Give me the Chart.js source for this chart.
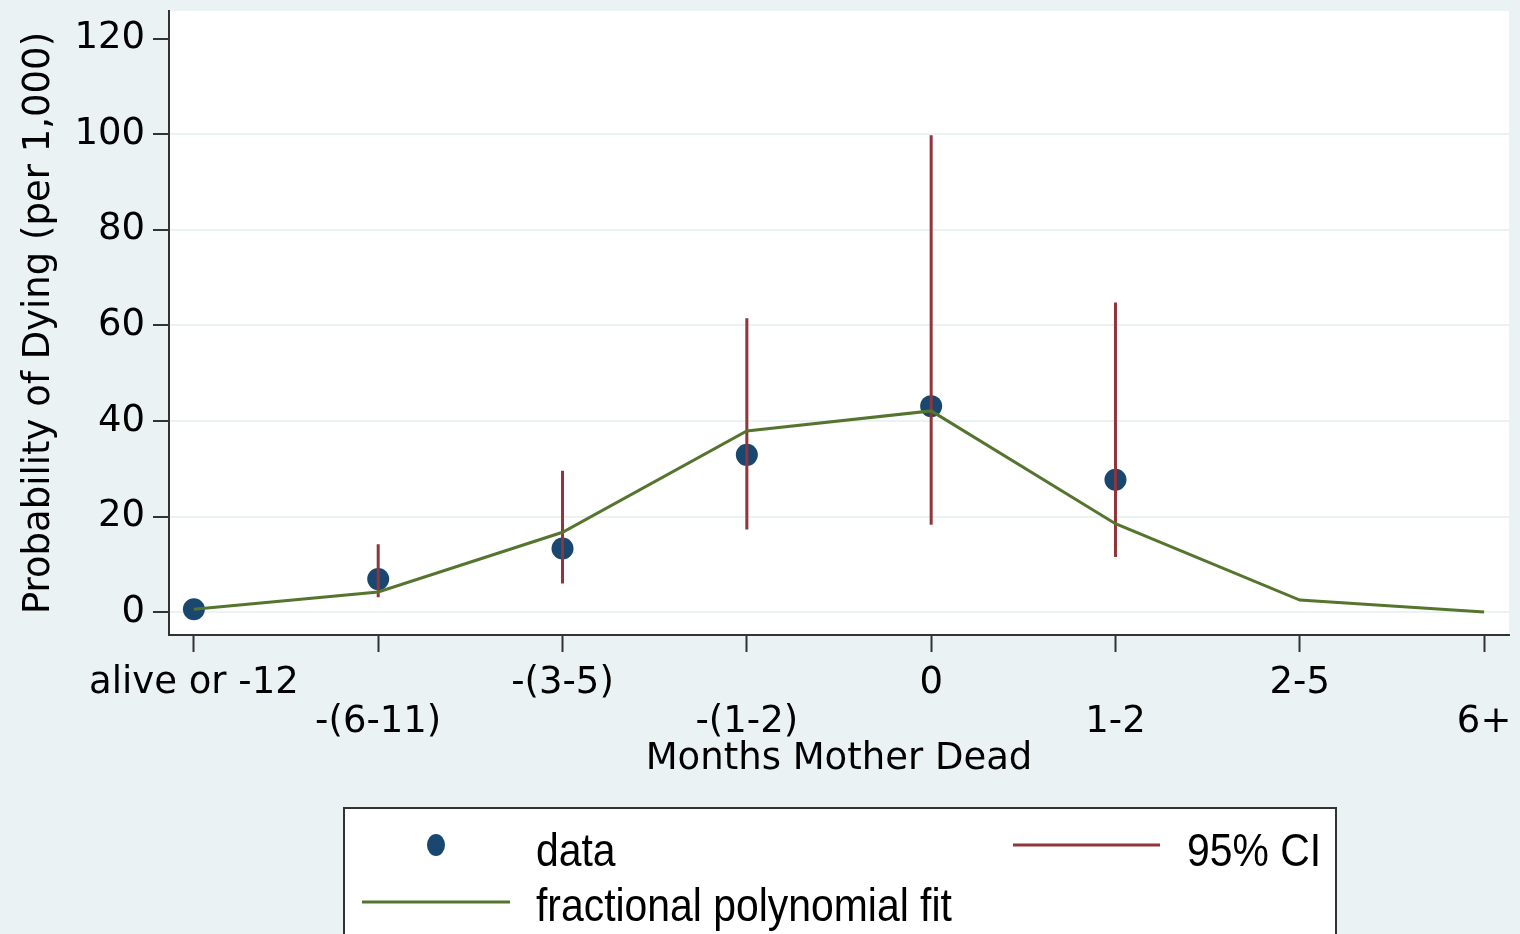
<!DOCTYPE html>
<html><head><meta charset="utf-8">
<script src="https://cdn.jsdelivr.net/npm/chart.js@4"></script>
<style>html,body{margin:0;padding:0;background:#EAF2F3;} #wrap{width:1520px;height:934px;}</style>
</head><body><div id="wrap"><canvas id="c" width="1520" height="934"></canvas></div>
<script>
const categories = ['alive or -12','-(6-11)','-(3-5)','-(1-2)','0','1-2','2-5','6+'];
const dataValues = [0.6, 6.9, 13.3, 32.9, 43.1, 27.7, null, null];
const fitValues  = [0.6, 4.2, 16.7, 37.9, 42.1, 18.5, 2.5, 0.0];
const ciLow      = [null, 3.1, 6.0, 17.3, 18.3, 11.5, null, null];
const ciHigh     = [null, 14.2, 29.6, 61.5, 99.8, 64.8, null, null];
const yTicks     = [0, 20, 40, 60, 80, 100, 120];
const legendLabels = ['data', '95% CI', 'fractional polynomial fit'];

const NAVY = '#1A476F', RED = '#90353B', GREEN = '#55752F', BG = '#EAF2F3', INK = '#000000', AXIS = '#333333';

const dotPoints = [];
dataValues.forEach((v, i) => { if (v !== null) dotPoints.push({x: i, y: v}); });
const fitPoints = fitValues.map((v, i) => ({x: i, y: v}));
const ciPoints = [];
ciLow.forEach((lo, i) => {
  if (lo !== null) { ciPoints.push({x: i, y: lo}, {x: i, y: ciHigh[i]}, {x: i, y: null}); }
});

const bgPlugin = {
  id: 'bg',
  beforeDraw(chart) {
    const {ctx, chartArea: a} = chart;
    ctx.save();
    ctx.fillStyle = BG; ctx.fillRect(0, 0, chart.width, chart.height);
    ctx.fillStyle = '#ffffff'; ctx.fillRect(a.left, a.top, a.right - a.left, a.bottom - a.top);
    ctx.restore();
  }
};

function condText(ctx, t, x, y) {
  ctx.save();
  ctx.translate(x, y); ctx.scale(0.87, 1);
  ctx.font = '47px "Liberation Sans", Arial, sans-serif';
  ctx.fillStyle = INK; ctx.textBaseline = 'alphabetic'; ctx.textAlign = 'left';
  ctx.fillText(t, 0, 0);
  ctx.restore();
}

const legendPlugin = {
  id: 'customLegend',
  afterDraw(chart) {
    const ctx = chart.ctx;
    ctx.save();
    ctx.fillStyle = '#ffffff'; ctx.fillRect(344, 808, 992, 140);
    ctx.strokeStyle = AXIS; ctx.lineWidth = 2; ctx.strokeRect(344, 808, 992, 140);
    ctx.fillStyle = NAVY; ctx.beginPath(); ctx.ellipse(436, 845, 9, 11, 0, 0, Math.PI * 2); ctx.fill();
    ctx.lineWidth = 3;
    ctx.strokeStyle = RED; ctx.beginPath(); ctx.moveTo(1013, 845); ctx.lineTo(1160, 845); ctx.stroke();
    ctx.strokeStyle = GREEN; ctx.beginPath(); ctx.moveTo(362, 902); ctx.lineTo(510, 902); ctx.stroke();
    ctx.restore();
    condText(ctx, legendLabels[0], 536, 866);
    condText(ctx, legendLabels[1], 1187, 866);
    condText(ctx, legendLabels[2], 536, 921);
  }
};

const axisFont = {family: '"DejaVu Sans", sans-serif', size: 37};

new Chart(document.getElementById('c'), {
  type: 'line',
  data: {
    datasets: [
      {label: 'fractional polynomial fit', data: fitPoints, borderColor: GREEN, borderWidth: 3, pointRadius: 0, tension: 0, fill: false, order: 0},
      {label: '95% CI', data: ciPoints, borderColor: RED, borderWidth: 3, pointRadius: 0, spanGaps: false, fill: false, order: 1},
      {label: 'data', data: dotPoints, showLine: false, pointRadius: 11, pointBackgroundColor: NAVY, pointBorderWidth: 0, borderColor: NAVY, order: 2}
    ]
  },
  options: {
    responsive: false,
    animation: false,
    devicePixelRatio: 1,
    layout: {padding: {top: 8, right: 4, left: 0, bottom: 0}},
    plugins: {legend: {display: false}, tooltip: {enabled: false}},
    scales: {
      x: {
        type: 'linear', min: -0.135, max: 7.135,
        afterBuildTicks: s => { s.ticks = categories.map((c, i) => ({value: i})); },
        ticks: {
          callback: (v) => { const i = Math.round(v); return i % 2 ? ['', categories[i]] : categories[i]; },
          font: {family: axisFont.family, size: 37, lineHeight: 1.054},
          color: INK, padding: 12, maxRotation: 0, minRotation: 0, autoSkip: false
        },
        grid: {drawOnChartArea: false, drawTicks: true, tickLength: 17, tickColor: AXIS, tickWidth: 2},
        border: {display: true, color: AXIS, width: 2},
        title: {display: true, text: 'Months Mother Dead', font: axisFont, color: INK, padding: {top: 0, bottom: 152}},
        afterFit: s => { s.height = 299; s.paddingLeft = 0; s.paddingRight = 0; }
      },
      y: {
        type: 'linear', min: -4.8, max: 125.8,
        afterBuildTicks: s => { s.ticks = yTicks.map(v => ({value: v})); },
        ticks: {font: axisFont, color: INK, padding: 8, callback: v => String(v)},
        grid: {color: c => (c.tick && c.tick.value === 120) ? 'rgba(0,0,0,0)' : BG, lineWidth: 2, tickLength: 16, tickColor: AXIS, tickWidth: 2},
        border: {display: true, color: AXIS, width: 2},
        title: {display: true, text: 'Probability of Dying (per 1,000)', font: axisFont, color: INK, padding: {top: 17, bottom: 0}},
        afterFit: s => { s.width = 169; s.paddingTop = 0; s.paddingBottom = 0; }
      }
    }
  },
  plugins: [bgPlugin, legendPlugin]
});
</script>
</body></html>
